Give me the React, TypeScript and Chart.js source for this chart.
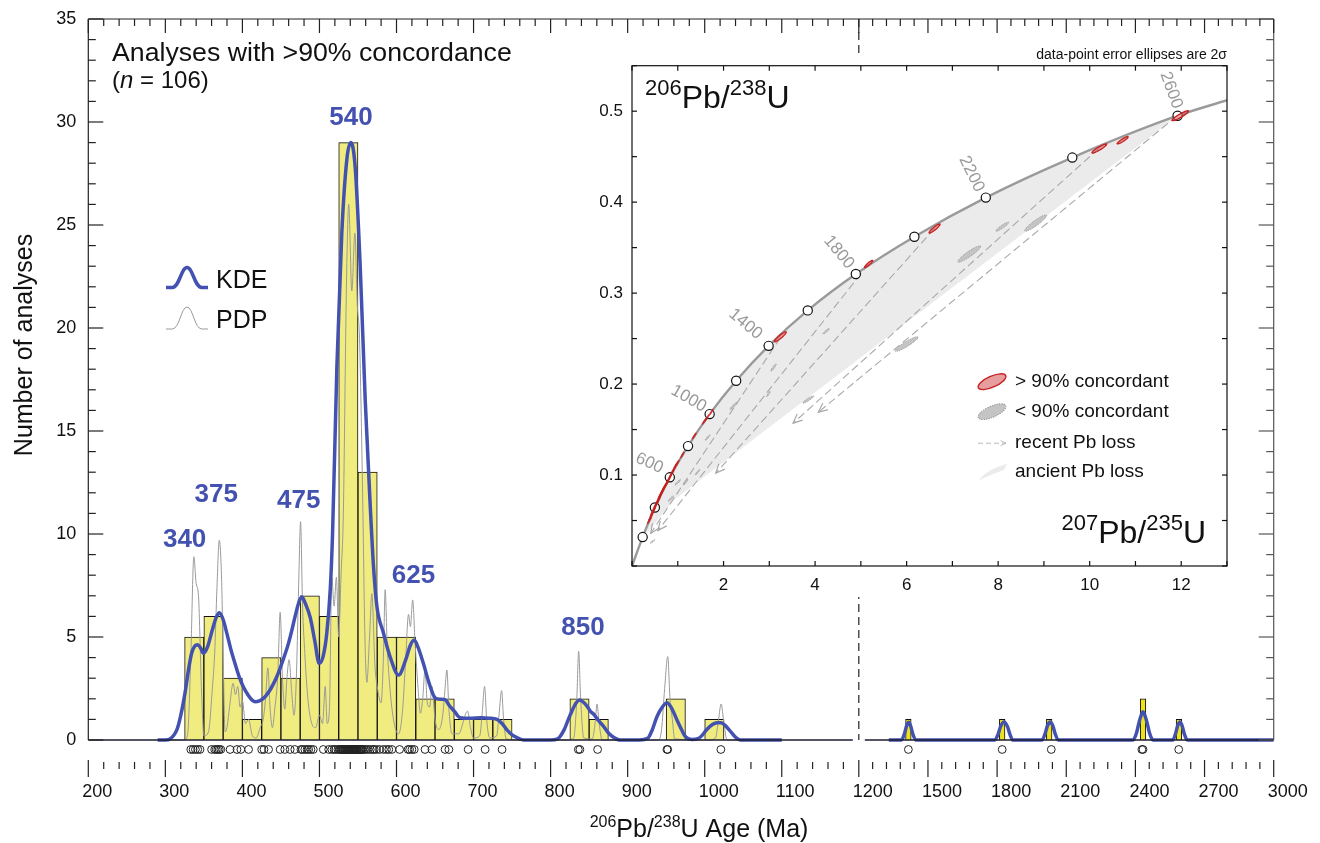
import React, { useEffect, useRef } from "react";
import { Chart, registerables, LinearScale } from "chart.js";

Chart.register(...registerables);

const FONT = '"Liberation Sans", Arial, Helvetica, sans-serif';
const KDE_BLUE = "#4352b0";

// ---------------- main axis layout ----------------
const X_MIN = 200;
const X_BREAK = 1200;
const X_MAX = 3000;
const BREAK_FRAC = 0.65;
const Y_MIN = -1;
const Y_MAX = 35;
const RUG_LEVEL = -0.46;

// ---------------- histogram (25 Ma bins) ----------------
const BIN_CENTERS = [337.5, 362.5, 387.5, 412.5, 437.5, 462.5, 487.5, 512.5, 537.5, 562.5, 587.5, 612.5, 637.5, 662.5, 687.5, 712.5, 737.5, 837.5, 862.5, 962.5, 1012.5];
const BIN_COUNTS = [5, 6, 3, 1, 4, 3, 7, 6, 29, 13, 5, 5, 2, 2, 1, 1, 1, 2, 1, 2, 1];
const OLD_BIN_CENTERS = [1415, 1822, 2026, 2433, 2589];
const OLD_BIN_COUNTS = [1, 1, 1, 2, 1];

// ---------------- KDE (age, value) ----------------
const KDE_YOUNG = [
  [290, 0], [300, 0], [306, 0.05], [315, 0.5], [320, 1.2], [325.6, 2.3], [330, 3.4], [334, 4.2], [338, 4.55], [342, 4.62],
  [346, 4.45], [349.4, 4.21], [355, 4.55], [361, 5.35], [366, 5.95], [370, 6.18], [375, 5.85], [380, 5.15], [385, 4.4],
  [390.5, 3.7], [396, 3.05], [401, 2.6], [408, 2.15], [413, 1.92], [416.5, 1.86], [422, 1.9], [429.5, 2.1], [437, 2.5],
  [444.6, 3.07], [452, 3.8], [459.8, 4.69], [464, 5.3], [468.4, 6.0], [473, 6.65], [477, 6.95], [482, 6.6], [488, 5.95],
  [494, 4.8], [499.6, 3.72], [505, 4.1], [509.5, 5.18], [514, 7.3], [517, 10.0], [522.6, 18.1], [529, 24.6], [535.6, 28.2],
  [540.8, 29.0], [546.4, 27.8], [552.9, 23.0], [559.4, 16.5], [566, 11.3], [570.2, 8.4], [574.5, 6.5], [583, 5.2], [592, 4.0],
  [602.7, 3.15], [612, 3.9], [618, 4.6], [623, 4.85], [628, 4.5], [635, 3.7], [642, 2.8], [650, 2.05], [657, 1.98], [663, 1.96],
  [668, 1.7], [675, 1.4], [682.7, 1.08], [695, 1.05], [710, 1.08], [720, 1.06], [730.4, 1.0], [737, 0.8], [743.3, 0.49],
  [750, 0.25], [758.5, 0.08], [765, 0], [800, 0], [809, 0.05], [817.5, 0.49], [823, 1.0], [828.3, 1.46], [833, 1.8],
  [837.8, 1.94], [843, 1.82], [848, 1.6], [852, 1.38], [856, 1.25], [862, 0.95], [869, 0.65], [876, 0.3], [884, 0.08], [890, 0],
  [915, 0], [926, 0.08], [932, 0.5], [938, 1.13], [945, 1.6], [951, 1.81], [957, 1.55], [964, 0.97], [970, 0.5], [975, 0.16],
  [983, 0.03], [992, 0.08], [996, 0.2], [1003, 0.52], [1010, 0.75], [1016, 0.84], [1021, 0.84], [1028, 0.65], [1035.6, 0.32],
  [1041, 0.1], [1046, 0], [1100, 0],
];
const KDE_OLD = [
  [1330, 0], [1385, 0], [1398, 0.3], [1407, 0.68], [1416, 0.86], [1425, 0.68], [1434, 0.3], [1449, 0],
  [1790, 0], [1805, 0.3], [1815, 0.65], [1830, 0.87], [1845, 0.65], [1855, 0.3], [1868, 0],
  [1995, 0], [2008, 0.3], [2018, 0.68], [2030, 0.87], [2042, 0.68], [2052, 0.3], [2065, 0],
  [2390, 0], [2405, 0.35], [2418, 0.95], [2433, 1.37], [2448, 0.95], [2461, 0.35], [2476, 0],
  [2562, 0], [2574, 0.3], [2583, 0.68], [2593, 0.87], [2603, 0.68], [2612, 0.3], [2625, 0], [3000, 0],
];

// ---------------- PDP (age, value) ----------------
const PDP_YOUNG = [
  [290, 0], [325, 0], [329, 0.3], [333, 4.0], [337, 8.9], [340, 7.6], [343, 7.0], [347, 2.3], [350, 0.2], [356, 0.4],
  [361, 2.5], [364, 4.2], [367, 7.4], [370, 9.7], [373, 7.8], [375, 4.2], [377.5, 0.4], [380, 0.6], [383, 1.5], [388, 2.75],
  [391, 2.2], [394, 2.6], [397, 1.6], [400, 1.9], [404, 0.8], [408, 1.0], [413, 0.2], [418, 0.1], [423, 0.6], [427, 1.0],
  [430, 2.0], [433, 3.5], [436, 1.5], [439, 0.6], [442, 1.5], [446, 3.2], [449, 6.2], [452, 3.0], [455, 1.5], [457.6, 2.9],
  [460.6, 3.9], [464, 2.3], [467, 1.2], [470, 3.0], [473, 7.5], [475.5, 10.6], [478, 6.6], [481, 4.2], [485, 2.0], [490, 0.8],
  [495, 0.6], [500, 1.2], [504, 0.8], [507.5, 2.6], [510, 0.8], [513, 1.5], [516, 7.9], [519, 6.5], [522, 7.9], [525, 5.0],
  [528, 8.0], [531, 11.0], [535, 22.0], [538, 26.0], [542, 21.8], [546, 24.6], [549, 21.2], [552, 19.5], [556, 12.0], [559, 5.0],
  [561.5, 2.8], [565, 5.0], [568, 7.1], [572, 3.6], [575, 2.6], [580, 1.8], [583, 4.0], [585.3, 7.3], [588, 4.5], [592, 2.3],
  [597, 0.8], [602.7, 0.3], [608, 1.5], [612, 4.0], [615.6, 6.1], [618, 5.5], [621, 6.8], [624, 4.8], [628, 2.5], [631, 1.3],
  [634, 2.0], [637, 3.4], [640, 1.8], [643, 1.6], [646, 2.6], [650, 1.0], [654.6, 0.5], [660, 1.2], [663, 2.5], [665.4, 3.4],
  [668, 1.5], [672, 0.3], [681, 0.3], [686, 0.8], [690, 1.3], [692.3, 1.4], [696, 0.6], [700, 0.1], [708, 0.2], [711, 1.2],
  [714.3, 2.6], [717, 1.0], [721, 0.1], [730, 0.2], [733, 1.2], [736.4, 2.4], [739, 1.0], [742.5, 0.05], [760, 0], [820, 0],
  [830, 0.1], [834, 2.0], [836.4, 4.3], [839, 2.0], [843, 0.1], [854, 0.05], [858, 0.9], [860.2, 1.75], [863, 0.8], [867, 0],
  [900, 0], [940, 0], [944, 0.5], [948, 2.5], [952, 4.05], [955, 2.0], [958, 1.0], [961, 0.05], [1005, 0], [1014, 0.1],
  [1018, 1.0], [1021.3, 1.75], [1025, 0.8], [1029, 0], [1060, 0],
];

// ---------------- individual analyses (rug) ----------------
const RUG_AGES = [
  333, 336, 339, 342, 345,
  360, 364, 366, 368, 370, 372,
  384, 393, 398,
  408,
  425, 428, 434, 449,
  455, 462, 468,
  476, 478, 481, 484, 486, 489, 492,
  505, 512, 516, 519, 521, 524,
  526, 527, 528, 529.5, 530, 531, 532, 533, 534, 535, 536, 537, 537.5, 538, 539, 540, 540.5, 541, 542, 543, 543.5, 544, 545, 546, 546.5, 547, 548, 549, 549.5,
  551, 552, 553, 554, 555, 556, 558, 560, 563, 566, 569, 571, 574,
  578, 583, 587, 590, 594,
  604, 615, 617, 620, 623,
  637, 646,
  663, 668,
  693, 715, 737,
  836, 838, 861,
  951, 952, 1021,
  1415, 1822, 2035, 2428, 2433, 2588,
];

const PEAK_LABELS = ["340", "375", "475", "540", "625", "850"];
const PEAK_LABEL_AGES = [325, 366, 473, 541, 622, 842];
const PEAK_LABEL_LEVELS = [9.72, 11.9, 11.6, 30.2, 7.95, 5.45];

const X_TICK_LABELS = [200, 300, 400, 500, 600, 700, 800, 900, 1000, 1100, 1200, 1500, 1800, 2100, 2400, 2700, 3000];
const Y_TICK_LABELS = [0, 5, 10, 15, 20, 25, 30, 35];

// ---------------- inset: concordia diagram ----------------
const CONC_AGES = [200, 400, 600, 800, 1000, 1200, 1400, 1600, 1800, 2000, 2200, 2400, 2600];
const CONC_X = [0.233, 0.5, 0.826, 1.224, 1.696, 2.276, 2.985, 3.84, 4.89, 6.17, 7.73, 9.62, 11.92];
const CONC_Y = [0.0318, 0.0643, 0.0975, 0.1318, 0.167, 0.2037, 0.242, 0.281, 0.321, 0.362, 0.405, 0.449, 0.495];
const CONC_START = [0, 0];
const CONC_END = [13, 0.512];

const AGE_LABELS = ["600", "1000", "1400", "1800", "2200", "2600"];
const AGE_LABEL_X = [0.38, 1.24, 2.48, 4.52, 7.42, 11.78];
const AGE_LABEL_Y = [0.113, 0.184, 0.266, 0.345, 0.431, 0.523];
const AGE_LABEL_ROT = [24, 30, 40, 50, 64, 70];

// >90% concordant ellipses: [x, y, 2s x, 2s y]
const RED_ELLIPSES = [
  [0.38, 0.05, 0.045, 0.0038], [0.41, 0.054, 0.045, 0.0038], [0.44, 0.058, 0.045, 0.0038], [0.46, 0.06, 0.045, 0.0038],
  [0.48, 0.062, 0.045, 0.0038], [0.5, 0.065, 0.045, 0.0038], [0.52, 0.067, 0.045, 0.0038], [0.54, 0.069, 0.045, 0.0038],
  [0.56, 0.071, 0.045, 0.0038], [0.58, 0.073, 0.045, 0.0038], [0.6, 0.076, 0.045, 0.0038], [0.62, 0.078, 0.045, 0.0038],
  [0.64, 0.08, 0.045, 0.0038], [0.66, 0.082, 0.045, 0.0038], [0.68, 0.084, 0.045, 0.0038], [0.7, 0.086, 0.045, 0.0038],
  [0.72, 0.088, 0.045, 0.0038], [0.75, 0.09, 0.045, 0.0038], [0.78, 0.093, 0.045, 0.0038], [0.81, 0.096, 0.045, 0.0038],
  [0.84, 0.099, 0.045, 0.0038], [0.87, 0.102, 0.045, 0.0038], [0.91, 0.106, 0.045, 0.0038], [0.95, 0.11, 0.045, 0.0038],
  [0.99, 0.113, 0.045, 0.0038], [1.1, 0.122, 0.04, 0.0035], [1.36, 0.143, 0.045, 0.0035], [1.58, 0.159, 0.045, 0.0035],
  [1.64, 0.163, 0.045, 0.0035], [1.73, 0.169, 0.045, 0.0035],
  [3.24, 0.252, 0.13, 0.0055], [5.17, 0.332, 0.09, 0.004], [6.61, 0.371, 0.12, 0.005],
  [10.21, 0.459, 0.16, 0.005], [10.72, 0.468, 0.12, 0.004], [11.98, 0.495, 0.18, 0.0055],
];
// <90% concordant ellipses
const GRAY_ELLIPSES = [
  [0.45, 0.027, 0.05, 0.002], [0.85, 0.074, 0.06, 0.003], [1.0, 0.092, 0.06, 0.003], [1.17, 0.092, 0.05, 0.003],
  [1.43, 0.103, 0.05, 0.003], [1.65, 0.141, 0.05, 0.003], [2.22, 0.176, 0.08, 0.004], [2.98, 0.189, 0.04, 0.003],
  [3.09, 0.218, 0.06, 0.004], [3.85, 0.183, 0.12, 0.004], [4.24, 0.258, 0.07, 0.003], [6.0, 0.244, 0.25, 0.008],
  [7.37, 0.343, 0.25, 0.009], [8.09, 0.373, 0.14, 0.005], [8.82, 0.377, 0.24, 0.009],
];
const ELLIPSE_RHO = 0.92;

// recent Pb-loss trajectories: [x from, y from, x to, y to]
const LOSS_LINES = [
  [11.91, 0.495, 4.07, 0.169],
  [10.2, 0.459, 3.52, 0.157],
  [6.61, 0.371, 1.83, 0.102],
  [5.17, 0.332, 0.565, 0.039],
  [3.24, 0.251, 0.41, 0.036],
];
// ancient Pb-loss field outline
const ANCIENT_FIELD = [
  [0.33, 0.042], [0.5, 0.0643], [0.826, 0.0975], [1.224, 0.1318], [1.696, 0.167], [2.276, 0.2037], [2.985, 0.242],
  [3.84, 0.281], [4.89, 0.321], [6.17, 0.362], [7.73, 0.405], [9.62, 0.449], [11.92, 0.495], [0.9, 0.072], [0.33, 0.036],
];
const INSET_X_LABELS = [2, 4, 6, 8, 10, 12];
const INSET_Y_LABELS = [0.1, 0.2, 0.3, 0.4, 0.5];

// ---------------- helpers ----------------
function seg(ctx: CanvasRenderingContext2D, x1: number, y1: number, x2: number, y2: number) {
  ctx.beginPath();
  ctx.moveTo(x1, y1);
  ctx.lineTo(x2, y2);
  ctx.stroke();
}

// parts: [text, kind] kind: n normal, s superscript, i italic
function drawRich(ctx: any, parts: any[], x: number, y: number, size: number, supSize: number, align: string, color: string) {
  const fontFor = (k: string) => (k === "s" ? `${supSize}px ${FONT}` : k === "i" ? `italic ${size}px ${FONT}` : `${size}px ${FONT}`);
  let total = 0;
  const widths = parts.map((p: any) => {
    ctx.font = fontFor(p[1]);
    const w = ctx.measureText(p[0]).width;
    total += w;
    return w;
  });
  let cx = align === "center" ? x - total / 2 : align === "right" ? x - total : x;
  ctx.fillStyle = color;
  ctx.textAlign = "left";
  ctx.textBaseline = "alphabetic";
  parts.forEach((p: any, i: number) => {
    ctx.font = fontFor(p[1]);
    ctx.fillText(p[0], cx, p[1] === "s" ? y - size * 0.4 : y);
    cx += widths[i];
  });
}

const ageToFrac = (v: number) =>
  v <= X_BREAK
    ? ((v - X_MIN) / (X_BREAK - X_MIN)) * BREAK_FRAC
    : BREAK_FRAC + ((v - X_BREAK) / (X_MAX - X_BREAK)) * (1 - BREAK_FRAC);
const fracToAge = (f: number) =>
  f <= BREAK_FRAC
    ? X_MIN + (f / BREAK_FRAC) * (X_BREAK - X_MIN)
    : X_BREAK + ((f - BREAK_FRAC) / (1 - BREAK_FRAC)) * (X_MAX - X_BREAK);

class BrokenScale extends LinearScale {
  static id = "broken";
  static defaults = {};
  getPixelForValue(value: any) {
    if (value === null || value === undefined || isNaN(value)) return NaN;
    return (this as any).getPixelForDecimal(ageToFrac(value));
  }
  getValueForPixel(pixel: number) {
    return fracToAge((this as any).getDecimalForPixel(pixel));
  }
}
Chart.register(BrokenScale as any);

function bell(ctx: any, x: number, base: number, w: number, h: number) {
  ctx.beginPath();
  ctx.moveTo(x, base);
  ctx.lineTo(x + w * 0.15, base);
  ctx.bezierCurveTo(x + w * 0.32, base, x + w * 0.36, base - h, x + w * 0.5, base - h);
  ctx.bezierCurveTo(x + w * 0.64, base - h, x + w * 0.68, base, x + w * 0.85, base);
  ctx.lineTo(x + w, base);
  ctx.stroke();
}

// ---------------- main chart ----------------
const mainPlugin = {
  id: "mainDecor",
  afterDatasetsDraw(chart: any) {
    const ctx = chart.ctx;
    const xs = chart.scales.x;
    const ys = chart.scales.y;
    const y0 = ys.getPixelForValue(0);
    const xb = xs.getPixelForValue(X_BREAK);
    ctx.save();
    ctx.strokeStyle = "#1c1c30";
    ctx.lineWidth = 1.4;
    seg(ctx, chart.chartArea.left, y0, xb - 6, y0);
    seg(ctx, xb + 6, y0, chart.chartArea.right, y0);
    ctx.restore();
  },
  afterDraw(chart: any) {
    const ctx = chart.ctx;
    const xs = chart.scales.x;
    const ys = chart.scales.y;
    const { left: L, right: R, top: T } = chart.chartArea;
    const y0 = ys.getPixelForValue(0);
    ctx.save();
    ctx.lineWidth = 1.2;
    ctx.strokeStyle = "#222";
    seg(ctx, L, T, R, T);
    seg(ctx, L, T, L, y0);
    ctx.strokeStyle = "#555";
    seg(ctx, R, T, R, y0);
    for (let v = 0; v <= Y_MAX; v++) {
      const y = ys.getPixelForValue(v);
      const len = v % 5 === 0 ? 15 : 7.5;
      ctx.strokeStyle = "#222";
      seg(ctx, L, y, L + len, y);
      ctx.strokeStyle = "#555";
      seg(ctx, R, y, R - len, y);
    }
    const ticks: number[] = [];
    for (let a = X_MIN; a < X_BREAK; a += 20) ticks.push(a);
    for (let a = X_BREAK; a <= X_MAX; a += 60) ticks.push(a);
    ctx.strokeStyle = "#222";
    ticks.forEach((a) => {
      const x = xs.getPixelForValue(a);
      const major = X_TICK_LABELS.indexOf(a) >= 0;
      seg(ctx, x, T, x, T + (major ? 14 : 7));
      seg(ctx, x, y0 + (major ? 20 : 22), x, y0 + (major ? 37 : 29));
    });
    // axis break
    const xb = xs.getPixelForValue(X_BREAK);
    ctx.setLineDash([8, 5]);
    seg(ctx, xb, T, xb, y0);
    ctx.setLineDash([]);

    // tick labels
    ctx.fillStyle = "#111";
    ctx.font = `18px ${FONT}`;
    ctx.textBaseline = "middle";
    ctx.textAlign = "left";
    X_TICK_LABELS.forEach((a) => ctx.fillText(String(a), xs.getPixelForValue(a) - 6, y0 + 52));
    ctx.textAlign = "right";
    Y_TICK_LABELS.forEach((v) => ctx.fillText(String(v), L - 12, ys.getPixelForValue(v)));

    // axis titles
    drawRich(ctx, [["206", "s"], ["Pb/", "n"], ["238", "s"], ["U Age (Ma)", "n"]], 699, 837, 25, 16, "center", "#111");
    ctx.save();
    ctx.translate(32, 345);
    ctx.rotate(-Math.PI / 2);
    ctx.font = `25px ${FONT}`;
    ctx.textAlign = "center";
    ctx.textBaseline = "alphabetic";
    ctx.fillStyle = "#111";
    ctx.fillText("Number of analyses", 0, 0);
    ctx.restore();

    // title
    ctx.fillStyle = "#111";
    ctx.font = `26.7px ${FONT}`;
    ctx.textAlign = "left";
    ctx.textBaseline = "alphabetic";
    ctx.fillText("Analyses with >90% concordance", 112, 61);
    drawRich(ctx, [["(", "n"], ["n", "i"], [" = 106)", "n"]], 112, 87.5, 24, 24, "left", "#111");

    // peak labels
    ctx.fillStyle = KDE_BLUE;
    ctx.font = `bold 26px ${FONT}`;
    ctx.textAlign = "center";
    ctx.textBaseline = "middle";
    PEAK_LABELS.forEach((t, i) => ctx.fillText(t, xs.getPixelForValue(PEAK_LABEL_AGES[i]), ys.getPixelForValue(PEAK_LABEL_LEVELS[i])));

    // legend
    ctx.lineJoin = "round";
    ctx.strokeStyle = KDE_BLUE;
    ctx.lineWidth = 3.5;
    bell(ctx, 166, 287.5, 42, 20);
    ctx.strokeStyle = "#999";
    ctx.lineWidth = 1;
    bell(ctx, 166, 329, 42, 22);
    ctx.fillStyle = "#111";
    ctx.font = `25px ${FONT}`;
    ctx.textAlign = "left";
    ctx.textBaseline = "alphabetic";
    ctx.fillText("KDE", 216, 287.5);
    ctx.fillText("PDP", 216, 328);
    ctx.restore();
  },
};

function mainConfig(): any {
  const toXY = (arr: number[][]) => arr.map((p) => ({ x: p[0], y: p[1] }));
  const gap = { x: X_BREAK, y: null };
  return {
    type: "bar",
    data: {
      datasets: [
        {
          type: "line",
          label: "KDE",
          data: [...toXY(KDE_YOUNG), gap, ...toXY(KDE_OLD)],
          borderColor: KDE_BLUE,
          borderWidth: 3.5,
          pointRadius: 0,
          cubicInterpolationMode: "monotone",
          spanGaps: false,
          fill: false,
          order: 0,
        },
        {
          type: "line",
          label: "PDP",
          data: toXY(PDP_YOUNG),
          borderColor: "#9a9a9a",
          borderWidth: 1,
          pointRadius: 0,
          cubicInterpolationMode: "monotone",
          fill: false,
          order: 1,
        },
        {
          type: "bar",
          label: "Histogram",
          data: BIN_CENTERS.map((c, i) => ({ x: c, y: BIN_COUNTS[i] })),
          backgroundColor: "#f0ec80",
          borderColor: "#111",
          borderWidth: 1,
          barThickness: 19.26,
          grouped: false,
          order: 2,
        },
        {
          type: "bar",
          label: "Histogram (old)",
          data: OLD_BIN_CENTERS.map((c, i) => ({ x: c, y: OLD_BIN_COUNTS[i] })),
          backgroundColor: "#eee21a",
          borderColor: "#111",
          borderWidth: 1,
          barThickness: 5.6,
          grouped: false,
          order: 3,
        },
        {
          type: "scatter",
          label: "Analyses",
          data: RUG_AGES.map((a) => ({ x: a, y: RUG_LEVEL })),
          pointStyle: "circle",
          pointRadius: 3.9,
          pointBorderColor: "#222",
          pointBorderWidth: 1,
          pointBackgroundColor: "rgba(0,0,0,0)",
          order: 4,
        },
      ],
    },
    options: {
      responsive: false,
      animation: false,
      events: [],
      layout: { padding: { left: 88.3, top: 19, right: 46.3, bottom: 82.4 } },
      plugins: { legend: { display: false }, tooltip: { enabled: false } },
      scales: {
        x: { type: "broken", min: X_MIN, max: X_MAX, offset: false, display: false },
        y: { type: "linear", min: Y_MIN, max: Y_MAX, display: false },
      },
    },
    plugins: [mainPlugin],
  };
}

// ---------------- inset chart ----------------
function ellipsePath(ctx: any, xs: any, ys: any, e: number[]) {
  const [x, y, ex, ey] = e;
  const s = Math.sqrt(1 - ELLIPSE_RHO * ELLIPSE_RHO);
  ctx.beginPath();
  for (let k = 0; k <= 40; k++) {
    const t = (k / 40) * Math.PI * 2;
    const dx = ex * Math.cos(t);
    const dy = ey * (ELLIPSE_RHO * Math.cos(t) + s * Math.sin(t));
    const px = xs.getPixelForValue(x + dx);
    const py = ys.getPixelForValue(y + dy);
    if (k === 0) ctx.moveTo(px, py);
    else ctx.lineTo(px, py);
  }
  ctx.closePath();
}

function arrowHead(ctx: any, x1: number, y1: number, x2: number, y2: number, len: number) {
  const ang = Math.atan2(y2 - y1, x2 - x1);
  ctx.beginPath();
  ctx.moveTo(x2 - len * Math.cos(ang - 0.42), y2 - len * Math.sin(ang - 0.42));
  ctx.lineTo(x2, y2);
  ctx.lineTo(x2 - len * Math.cos(ang + 0.42), y2 - len * Math.sin(ang + 0.42));
  ctx.stroke();
}

const insetPlugin = {
  id: "insetDecor",
  beforeDraw(chart: any) {
    const ctx = chart.ctx;
    ctx.save();
    ctx.fillStyle = "#fff";
    ctx.fillRect(0, 18, chart.width, chart.height - 18);
    ctx.restore();
  },
  beforeDatasetsDraw(chart: any) {
    const ctx = chart.ctx;
    const xs = chart.scales.x;
    const ys = chart.scales.y;
    ctx.save();
    ctx.fillStyle = "#ebebeb";
    ctx.beginPath();
    ANCIENT_FIELD.forEach((p, i) => {
      const px = xs.getPixelForValue(p[0]);
      const py = ys.getPixelForValue(p[1]);
      if (i === 0) ctx.moveTo(px, py);
      else ctx.lineTo(px, py);
    });
    ctx.closePath();
    ctx.fill();
    GRAY_ELLIPSES.forEach((e) => {
      ellipsePath(ctx, xs, ys, e);
      ctx.fillStyle = "#c4c4c4";
      ctx.fill();
      ctx.setLineDash([1, 1]);
      ctx.strokeStyle = "#8a8a8a";
      ctx.lineWidth = 0.8;
      ctx.stroke();
      ctx.setLineDash([]);
    });
    ctx.restore();
  },
  afterDatasetsDraw(chart: any) {
    const ctx = chart.ctx;
    const xs = chart.scales.x;
    const ys = chart.scales.y;
    ctx.save();
    ctx.strokeStyle = "#a8a8a8";
    ctx.lineWidth = 1.2;
    LOSS_LINES.forEach((l) => {
      arrowHead(ctx, xs.getPixelForValue(l[0]), ys.getPixelForValue(l[1]), xs.getPixelForValue(l[2]), ys.getPixelForValue(l[3]), 10);
    });
    RED_ELLIPSES.forEach((e) => {
      ellipsePath(ctx, xs, ys, e);
      ctx.fillStyle = e[2] > 0.05 ? "rgba(214, 92, 92, 0.55)" : "rgba(205, 30, 30, 0.9)";
      ctx.fill();
      ctx.strokeStyle = "#c81e1e";
      ctx.lineWidth = e[2] > 0.05 ? 1.3 : 0.6;
      ctx.stroke();
    });
    ctx.restore();
  },
  afterDraw(chart: any) {
    const ctx = chart.ctx;
    const xs = chart.scales.x;
    const ys = chart.scales.y;
    const { left, right, top, bottom } = chart.chartArea;
    ctx.save();
    ctx.strokeStyle = "#111";
    ctx.lineWidth = 1.2;
    ctx.strokeRect(left, top, right - left, bottom - top);
    for (let v = 0; v <= 13; v++) {
      const x = xs.getPixelForValue(v);
      seg(ctx, x, bottom, x, bottom - 5);
      seg(ctx, x, top, x, top + 5);
    }
    for (let k = 0; k <= 11; k++) {
      const y = ys.getPixelForValue(k * 0.05);
      seg(ctx, left, y, left + 5, y);
      seg(ctx, right, y, right - 5, y);
    }
    ctx.fillStyle = "#111";
    ctx.font = `17px ${FONT}`;
    ctx.textAlign = "center";
    ctx.textBaseline = "middle";
    INSET_X_LABELS.forEach((v) => ctx.fillText(String(v), xs.getPixelForValue(v), bottom + 19));
    ctx.textAlign = "right";
    INSET_Y_LABELS.forEach((v) => ctx.fillText(v.toFixed(1), left - 9, ys.getPixelForValue(v)));

    // note
    ctx.font = `14px ${FONT}`;
    ctx.textAlign = "right";
    ctx.textBaseline = "alphabetic";
    ctx.fillText("data-point error ellipses are 2\u03c3", right, top - 6.5);

    // axis titles
    drawRich(ctx, [["206", "s"], ["Pb/", "n"], ["238", "s"], ["U", "n"]], left + 13, top + 42.5, 32, 22, "left", "#111");
    drawRich(ctx, [["207", "s"], ["Pb/", "n"], ["235", "s"], ["U", "n"]], right - 21, bottom - 23, 32, 22, "right", "#111");

    // concordia age labels
    ctx.fillStyle = "#9a9a9a";
    ctx.font = `17px ${FONT}`;
    ctx.textAlign = "center";
    ctx.textBaseline = "middle";
    AGE_LABELS.forEach((t, i) => {
      ctx.save();
      ctx.translate(xs.getPixelForValue(AGE_LABEL_X[i]), ys.getPixelForValue(AGE_LABEL_Y[i]));
      ctx.rotate((AGE_LABEL_ROT[i] * Math.PI) / 180);
      ctx.fillText(t, 0, 0);
      ctx.restore();
    });

    // legend
    const lx = left + 360;
    const tx = left + 383;
    const rows = [top + 316, top + 346, top + 377.5, top + 406];
    ctx.save();
    ctx.translate(lx, rows[0]);
    ctx.rotate(-0.42);
    ctx.beginPath();
    ctx.ellipse(0, 0, 15, 5.5, 0, 0, Math.PI * 2);
    ctx.fillStyle = "rgba(214, 92, 92, 0.6)";
    ctx.fill();
    ctx.strokeStyle = "#c81e1e";
    ctx.lineWidth = 1.4;
    ctx.stroke();
    ctx.restore();
    ctx.save();
    ctx.translate(lx, rows[1]);
    ctx.rotate(-0.42);
    ctx.beginPath();
    ctx.ellipse(0, 0, 15, 5.5, 0, 0, Math.PI * 2);
    ctx.fillStyle = "#c4c4c4";
    ctx.fill();
    ctx.setLineDash([1.2, 1.2]);
    ctx.strokeStyle = "#8a8a8a";
    ctx.lineWidth = 1;
    ctx.stroke();
    ctx.restore();
    ctx.strokeStyle = "#bbbbbb";
    ctx.lineWidth = 1;
    ctx.setLineDash([5, 3]);
    seg(ctx, lx - 14, rows[2], lx + 14, rows[2]);
    ctx.setLineDash([]);
    arrowHead(ctx, lx - 14, rows[2], lx + 14, rows[2], 6);
    ctx.fillStyle = "#ebebeb";
    ctx.beginPath();
    ctx.moveTo(lx - 14, rows[3] + 9);
    ctx.quadraticCurveTo(lx - 4, rows[3] - 3, lx + 15, rows[3] - 8);
    ctx.lineTo(lx + 12, rows[3] - 2);
    ctx.quadraticCurveTo(lx - 2, rows[3] + 3, lx - 14, rows[3] + 9);
    ctx.fill();
    ctx.fillStyle = "#111";
    ctx.font = `19px ${FONT}`;
    ctx.textAlign = "left";
    ctx.textBaseline = "middle";
    ["> 90% concordant", "< 90% concordant", "recent Pb loss", "ancient Pb loss"].forEach((t, i) => ctx.fillText(t, tx, rows[i]));
    ctx.restore();
  },
};

function insetConfig(): any {
  const curve = [CONC_START, ...CONC_X.map((x, i) => [x, CONC_Y[i]]), CONC_END].map((p) => ({ x: p[0], y: p[1] }));
  const lossSets = LOSS_LINES.map((l, i) => ({
    type: "line",
    label: "recent Pb loss " + (i + 1),
    data: [
      { x: l[0], y: l[1] },
      { x: l[2], y: l[3] },
    ],
    borderColor: "#a8a8a8",
    borderWidth: 1.1,
    borderDash: [8, 4],
    pointRadius: 0,
    fill: false,
    order: 3,
  }));
  return {
    type: "scatter",
    data: {
      datasets: [
        {
          label: "Concordia ages",
          data: CONC_X.map((x, i) => ({ x, y: CONC_Y[i] })),
          pointRadius: 4.6,
          pointBackgroundColor: "#ffffff",
          pointBorderColor: "#111",
          pointBorderWidth: 1.2,
          showLine: false,
          order: 0,
        },
        {
          type: "line",
          label: "Concordia",
          data: curve,
          borderColor: "#9a9a9a",
          borderWidth: 2.4,
          pointRadius: 0,
          cubicInterpolationMode: "monotone",
          fill: false,
          order: 1,
        },
        ...lossSets,
      ],
    },
    options: {
      responsive: false,
      animation: false,
      events: [],
      layout: { padding: { left: 72, top: 25.7, right: 23, bottom: 31 } },
      plugins: { legend: { display: false }, tooltip: { enabled: false } },
      scales: {
        x: { type: "linear", min: 0, max: 13, display: false },
        y: { type: "linear", min: 0, max: 0.55, display: false },
      },
    },
    plugins: [insetPlugin],
  };
}

export default function App() {
  const mainRef = useRef<HTMLCanvasElement>(null);
  const insetRef = useRef<HTMLCanvasElement>(null);
  useEffect(() => {
    const main = new Chart(mainRef.current as HTMLCanvasElement, mainConfig());
    const inset = new Chart(insetRef.current as HTMLCanvasElement, insetConfig());
    return () => {
      main.destroy();
      inset.destroy();
    };
  }, []);
  return (
    <div style={{ position: "absolute", left: 0, top: 0, width: 1320, height: 843, background: "#fff" }}>
      <canvas ref={mainRef} width={1320} height={843} style={{ position: "absolute", left: 0, top: 0 }} />
      <canvas ref={insetRef} width={690} height={557} style={{ position: "absolute", left: 560, top: 40 }} />
    </div>
  );
}
